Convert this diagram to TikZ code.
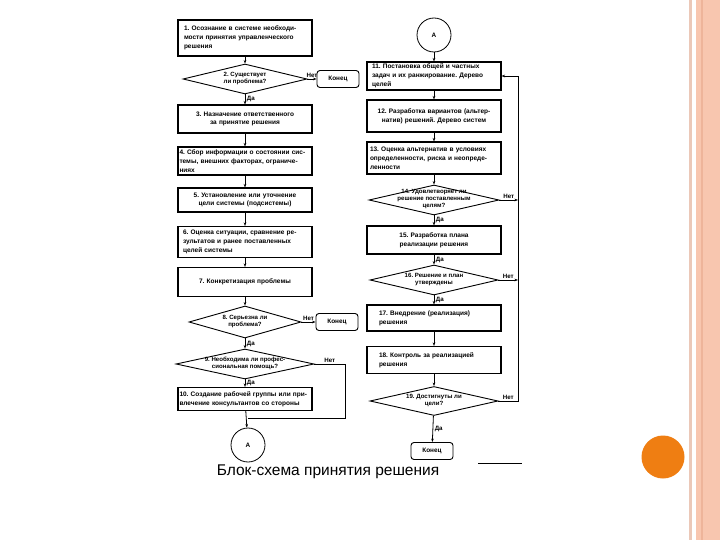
\documentclass[tikz,border=0pt]{standalone}
\usepackage{fontspec}
\setmainfont{Liberation Sans}
\usepackage{tikz}
\usetikzlibrary{shapes.geometric, arrows.meta}
\definecolor{peach}{HTML}{F8C6AF}
\definecolor{peachline}{HTML}{EEB49A}
\definecolor{peachthin}{HTML}{EBC8B8}
\definecolor{orangedot}{HTML}{EF7E12}

% text of a diamond, kept out of the shape's size
\newcommand{\dtext}[1]{\raisebox{-1.6pt}{\smash{\makebox[0pt]{%
 \begin{tabular}{@{}c@{}}#1\end{tabular}}}}}

\tikzset{
 block/.style={draw, line width=1.1pt, inner sep=0pt, minimum width=134pt,
   text width=131pt, font=\fontsize{6.5}{8.8}\selectfont\bfseries\frenchspacing},
 decision/.style={diamond, draw, line width=0.9pt, inner sep=0pt,
   font=\fontsize{6.1}{7.1}\selectfont\bfseries\frenchspacing},
 endbox/.style={draw, rounded corners=3pt, line width=0.9pt, minimum width=42pt,
   minimum height=17pt, font=\fontsize{6.4}{7}\selectfont\bfseries},
 conn/.style={circle, draw, line width=0.8pt, minimum size=34pt, inner sep=0pt,
   font=\fontsize{6.4}{7}\selectfont\bfseries},
 lab/.style={font=\fontsize{6.2}{7}\selectfont\bfseries, inner sep=1.5pt},
 flow/.style={line width=0.8pt, -{Stealth[length=3.5pt,width=2.6pt]}}
}

\begin{document}
\begin{tikzpicture}[x=1pt, y=-1pt]
\useasboundingbox (0,0) rectangle (720,540);

% slide decoration on the right
\fill[peach] (696,0) rectangle (720,540);
\draw[peachline, line width=2pt] (702,0) -- (702,540);
\draw[peachthin, line width=3pt] (690.5,0) -- (690.5,540);
\fill[orangedot] (663,457) circle [radius=21.5];

% left column
\node[block, align=left, text width=122pt, minimum height=36pt] (b1) at (245,38)
 {1. Осознание в системе необходи-\\мости принятия управленческого\\решения};
\node[decision, minimum width=124pt, minimum height=30pt] (d2) at (245,79)
 {\dtext{2. Существует\\ли проблема?}};
\node[endbox] (end1) at (338,79) {Конец};
\node[block, align=center, minimum height=28pt] (b3) at (245,119)
 {3. Назначение ответственного\\за принятие решения};
\node[block, align=left, minimum height=28pt] (b4) at (245,161)
 {4. Сбор информации о состоянии сис-\\темы, внешних факторах, ограниче-\\ниях};
\node[block, align=center, minimum height=24pt] (b5) at (245,200)
 {5. Установление или уточнение\\цели системы (подсистемы)};
\node[block, align=left, text width=124pt, minimum height=31pt] (b6) at (245,242)
 {6. Оценка ситуации, сравнение ре-\\зультатов и ранее поставленных\\целей системы};
\node[block, align=center, minimum height=29pt] (b7) at (245,282)
 {7. Конкретизация проблемы};
\node[decision, minimum width=112pt, minimum height=32pt] (d8) at (245,322)
 {\dtext{8. Серьезна ли\\проблема?}};
\node[endbox] (end2) at (337,322) {Конец};
\node[decision, minimum width=138pt, minimum height=30pt] (d9) at (245,364)
 {\dtext{9. Необходима ли профес-\\сиональная помощь?}};
\node[block, align=left, minimum height=23pt] (b10) at (245,399)
 {10. Создание рабочей группы или при-\\влечение консультантов со стороны};
\node[conn] (A1) at (248,445) {A};

% right column
\node[conn] (A2) at (434,35) {A};
\node[block, align=left, text width=124pt, minimum height=28pt] (b11) at (434,76)
 {11. Постановка общей и частных\\задач и их ранжирование. Дерево\\целей};
\node[block, align=center, minimum height=32pt] (b12) at (434,116)
 {12. Разработка вариантов (альтер-\\натив) решений. Дерево систем};
\node[block, align=left, text width=128pt, minimum height=32pt] (b13) at (434,158)
 {13. Оценка альтернатив в условиях\\определенности, риска и неопреде-\\ленности};
\node[decision, minimum width=130pt, minimum height=30pt] (d14) at (434,200)
 {\dtext{14. Удовлетворяет ли\\решение поставленным\\целям?}};
\node[block, align=center, minimum height=28pt] (b15) at (434,240)
 {15. Разработка плана\\реализации решения};
\node[decision, minimum width=128pt, minimum height=30pt] (d16) at (434,280)
 {\dtext{16. Решение и план\\утверждены}};
\node[block, align=left, text width=110pt, minimum height=26pt] (b17) at (434,318)
 {17. Внедрение (реализация)\\решения};
\node[block, align=left, text width=110pt, minimum height=27pt] (b18) at (434,360)
 {18. Контроль за реализацией\\решения};
\node[decision, minimum width=128pt, minimum height=29pt] (d19) at (434,401)
 {\dtext{19. Достигнуты ли\\цели?}};
\node[endbox] (end3) at (432,451) {Конец};

% caption
\node[font=\fontsize{15.5}{17}\selectfont, inner sep=0pt] (caption) at (328,472)
 {Блок-схема принятия решения};
\draw[line width=0.8pt] (478,463) -- (522,463);

% arrows, left column
\draw[flow] (b1) -- (d2);
\draw[flow] (d2) -- node[lab, right] {Да} (b3);
\draw[flow] (d2.east) -- node[lab, above] {Нет} (end1);
\foreach \a/\b in {b3/b4, b4/b5, b5/b6, b6/b7, b7/d8, b10/A1}
 {
 \draw[flow] (\a) -- (\b);
 }
\draw[flow] (d8.east) -- node[lab, above] {Нет} (end2);
\draw[flow] (d8) -- node[lab, right] {Да} (d9);
\draw[flow] (d9) -- node[lab, right] {Да} (b10);
\coordinate (c9) at (345,418);
\draw[line width=0.8pt] (d9.east) -- node[lab, above] {Нет} (d9.east -| c9)
 -- (c9) -- (c9 -| A1);

% arrows, right column
\coordinate (fb) at (518,401);
\foreach \a/\b in {A2/b11, b11/b12, b12/b13, b13/d14, b17/b18, b18/d19}
 {
 \draw[flow] (\a) -- (\b);
 }
\draw[flow] (d14) -- node[lab, right] {Да} (b15);
\draw[flow] (b15) -- node[lab, right] {Да} (d16);
\draw[flow] (d16) -- node[lab, right] {Да} (b17);
\draw[flow] (d19) -- node[lab, right] {Да} (end3);
\foreach \d in {d14, d16}
 {
 \draw[flow] (\d.east) -- node[lab, above] {Нет} (\d.east -| fb);
 }
% feedback line
\draw[flow] (d19.east) -- node[lab, above] {Нет} (d19.east -| fb)
 -- (fb |- b11.east) -- (b11.east);

\end{tikzpicture}
\end{document}
